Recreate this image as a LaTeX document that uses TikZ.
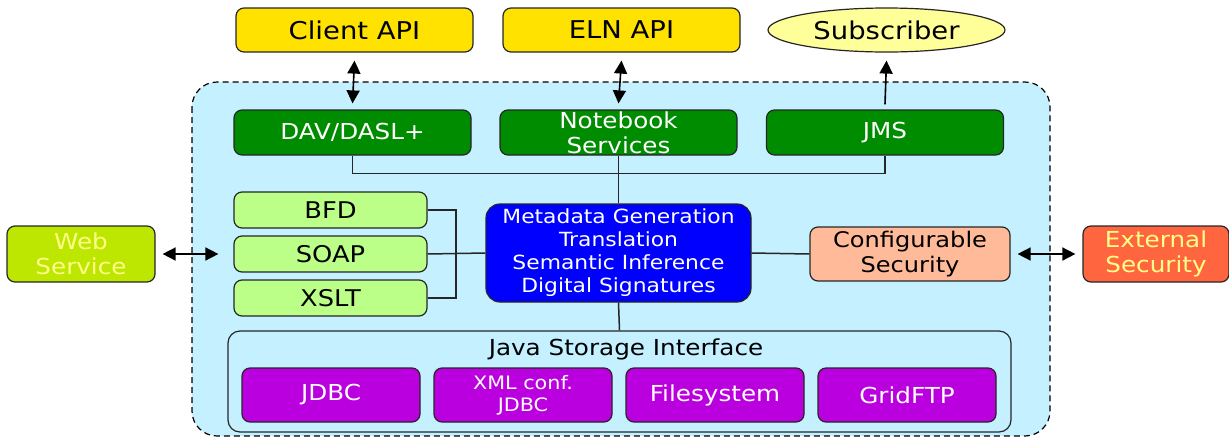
\documentclass[tikz,border=0pt]{standalone}
\usepackage{fontspec}
\setmainfont[FakeStretch=1.12]{DejaVu Sans}
\usepackage{tikz}
\usetikzlibrary{arrows,arrows.meta,shapes,backgrounds}
\definecolor{apiyellow}{HTML}{FFE200}
\definecolor{subyellow}{HTML}{FFFF99}
\definecolor{framecyan}{HTML}{C4F0FF}
\definecolor{davgreen}{HTML}{008C00}
\definecolor{palegreen}{HTML}{BBFF88}
\definecolor{webgreen}{HTML}{BDE600}
\definecolor{textyellow}{HTML}{FFFF88}
\definecolor{secpeach}{HTML}{FFBB99}
\definecolor{extorange}{HTML}{FF6640}
\definecolor{storepurple}{HTML}{BB00E0}
\tikzstyle{link} = [line width=1.6pt, black, >={Triangle[length=13pt,width=13pt]}]
\tikzstyle{wire} = [line width=1.5pt, black!85]

\begin{document}
\begin{tikzpicture}[x=1pt,y=-1pt]
    \tikzstyle{box}=[rectangle,rounded corners=8pt,draw=black!85,line width=1.2pt,align=center,inner sep=0pt]
    \tikzstyle{api}=[box,fill=apiyellow,minimum width=237pt,minimum height=44pt,font=\fontsize{24.5}{27}\selectfont]
    \tikzstyle{front}=[box,fill=davgreen,text=white,minimum width=237pt,minimum height=45pt,font=\fontsize{22}{25}\selectfont]
    \tikzstyle{proto}=[box,fill=palegreen,minimum width=193pt,minimum height=36pt,font=\fontsize{23}{26}\selectfont]
    \tikzstyle{outer}=[box,text=textyellow,minimum height=56pt,font=\fontsize{22}{24.5}\selectfont]
    \tikzstyle{store}=[box,fill=storepurple,text=white,minimum width=178pt,minimum height=54pt,font=\fontsize{22}{22}\selectfont]
    \useasboundingbox (0,0) rectangle (1229,437);

    % outer frame
    \draw[dashed,line width=1.2pt,fill=framecyan,rounded corners=25pt,dash pattern=on 6pt off 4pt]
      (192,82) rectangle (1050,436);

    % top row
    \node[api](client) at (354.5,30){Client API};
    \node[api](eln) at (621.5,30){ELN API};
    \node[ellipse,draw=black!85,line width=1.2pt,fill=subyellow,minimum width=237pt,
      minimum height=44pt,inner sep=0pt,font=\fontsize{24.5}{27}\selectfont](subscriber) at (886.5,30){Subscriber};

    \node[front](dav) at (352.5,132.5){DAV/DASL+};
    \node[front](notebook) at (618.5,132.5){Notebook\\Services};
    \node[front](jms) at (885,132.5){JMS};

    % middle row
    \node[proto](bfd) at (330.5,210){BFD};
    \node[proto](soap) at (330.5,254){SOAP};
    \node[proto](xslt) at (330.5,298){XSLT};
    \node[box,rounded corners=14pt,fill=blue,text=white,minimum width=265pt,minimum height=98pt,
      font=\fontsize{19.5}{23}\selectfont](core) at (618.5,253){Metadata Generation\\Translation\\Semantic Inference\\Digital Signatures};
    \node[box,fill=secpeach,minimum width=200pt,minimum height=54pt,
      font=\fontsize{21.5}{24.5}\selectfont](confsec) at (910,254){Configurable\\Security};
    \node[outer,fill=webgreen,minimum width=148pt](web) at (81,254){Web\\Service};
    \node[outer,fill=extorange,minimum width=146pt](extsec) at (1156,254){External\\Security};

    % storage
    \node[box,rounded corners=12pt,fill=framecyan,minimum width=783pt,minimum height=101pt](jsi) at (619.5,381.5){};
    \node[font=\fontsize{22}{24}\selectfont](jsilabel) at (626,349){Java Storage Interface};
    \node[store](jdbc) at (331,395){JDBC};
    \node[store,font=\fontsize{18.5}{22}\selectfont](xmljdbc) at (523,395){XML conf.\\JDBC};
    \node[store](filesys) at (715,395){Filesystem};
    \node[store](gridftp) at (907,395){GridFTP};

    % arrows
    \draw[link,<->] ([yshift=-8pt]client.south) -- ([yshift=6pt]dav.north);
    \draw[link,<->] ([yshift=-8pt]eln.south) -- ([yshift=6pt]notebook.north);
    \draw[link,->] ([yshift=5pt]jms.north) -- ([yshift=-8pt]subscriber.south);
    \draw[link,<->] ([xshift=7pt]web.east) -- ([xshift=-15pt]soap.west);
    \draw[link,<->] ([xshift=7pt]confsec.east) -- ([xshift=-7pt]extsec.west);

    % wires
    \draw[wire] (dav.south) -- ++(0,18) -| (jms.south);
    \draw[wire] (notebook.south) -- (core.north);
    \draw[wire] (bfd.east) -| (456,254) |- (xslt.east);
    \draw[wire] (soap.east) -- (core.west);
    \draw[wire] (core.east) -- (confsec.west);
    \draw[wire] (core.south) -- (jsi.north);
\end{tikzpicture}
\end{document}
